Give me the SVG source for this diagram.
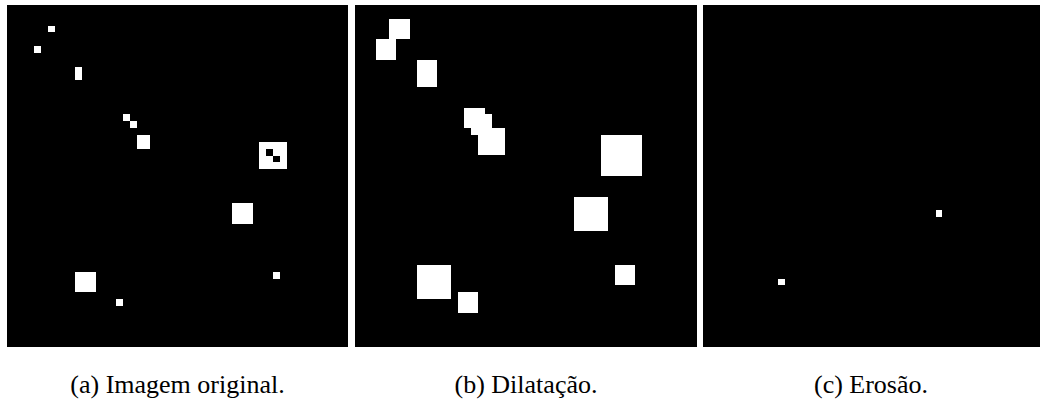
<svg xmlns="http://www.w3.org/2000/svg" width="1040" height="400" viewBox="0 0 1040 400">
<style>
.panel{fill:#000}
.px{fill:#fff}
.cap{font-family:"Liberation Serif","Times New Roman",serif;font-size:26px;fill:#000;text-anchor:middle}
</style>
<rect x="0" y="0" width="1040" height="400" fill="#fff"/>
<g id="panel-a">
<rect class="panel" x="7" y="5" width="341" height="342"/>
<rect class="px" x="48" y="26" width="7" height="6"/>
<rect class="px" x="34" y="46" width="7" height="7"/>
<rect class="px" x="75" y="67" width="7" height="13"/>
<rect class="px" x="123" y="114" width="7" height="7"/>
<rect class="px" x="130" y="121" width="7" height="7"/>
<rect class="px" x="137" y="135" width="13" height="14"/>
<rect class="px" x="259" y="142" width="28" height="27"/>
<rect class="panel" x="266" y="149" width="7" height="7"/>
<rect class="panel" x="273" y="156" width="7" height="6"/>
<rect class="px" x="232" y="203" width="21" height="21"/>
<rect class="px" x="273" y="272" width="7" height="7"/>
<rect class="px" x="75" y="272" width="21" height="20"/>
<rect class="px" x="116" y="299" width="7" height="7"/>
</g>
<g id="panel-b">
<rect class="panel" x="355" y="5" width="342" height="342"/>
<rect class="px" x="389" y="19" width="21" height="20"/>
<rect class="px" x="376" y="39" width="20" height="21"/>
<rect class="px" x="417" y="60" width="20" height="27"/>
<rect class="px" x="464" y="108" width="21" height="20"/>
<rect class="px" x="471" y="114" width="21" height="21"/>
<rect class="px" x="478" y="128" width="27" height="27"/>
<rect class="px" x="601" y="135" width="41" height="41"/>
<rect class="px" x="574" y="197" width="34" height="34"/>
<rect class="px" x="615" y="265" width="20" height="20"/>
<rect class="px" x="417" y="265" width="34" height="34"/>
<rect class="px" x="458" y="292" width="20" height="21"/>
</g>
<g id="panel-c">
<rect class="panel" x="703" y="5" width="337" height="342"/>
<rect class="px" x="936" y="210" width="6" height="7"/>
<rect class="px" x="778" y="279" width="7" height="6"/>
</g>
<g id="captions">
<text class="cap" x="177.5" y="393">(a) Imagem original.</text>
<text class="cap" x="526" y="393">(b) Dilatação.</text>
<text class="cap" x="871" y="393">(c) Erosão.</text>
</g>
</svg>
